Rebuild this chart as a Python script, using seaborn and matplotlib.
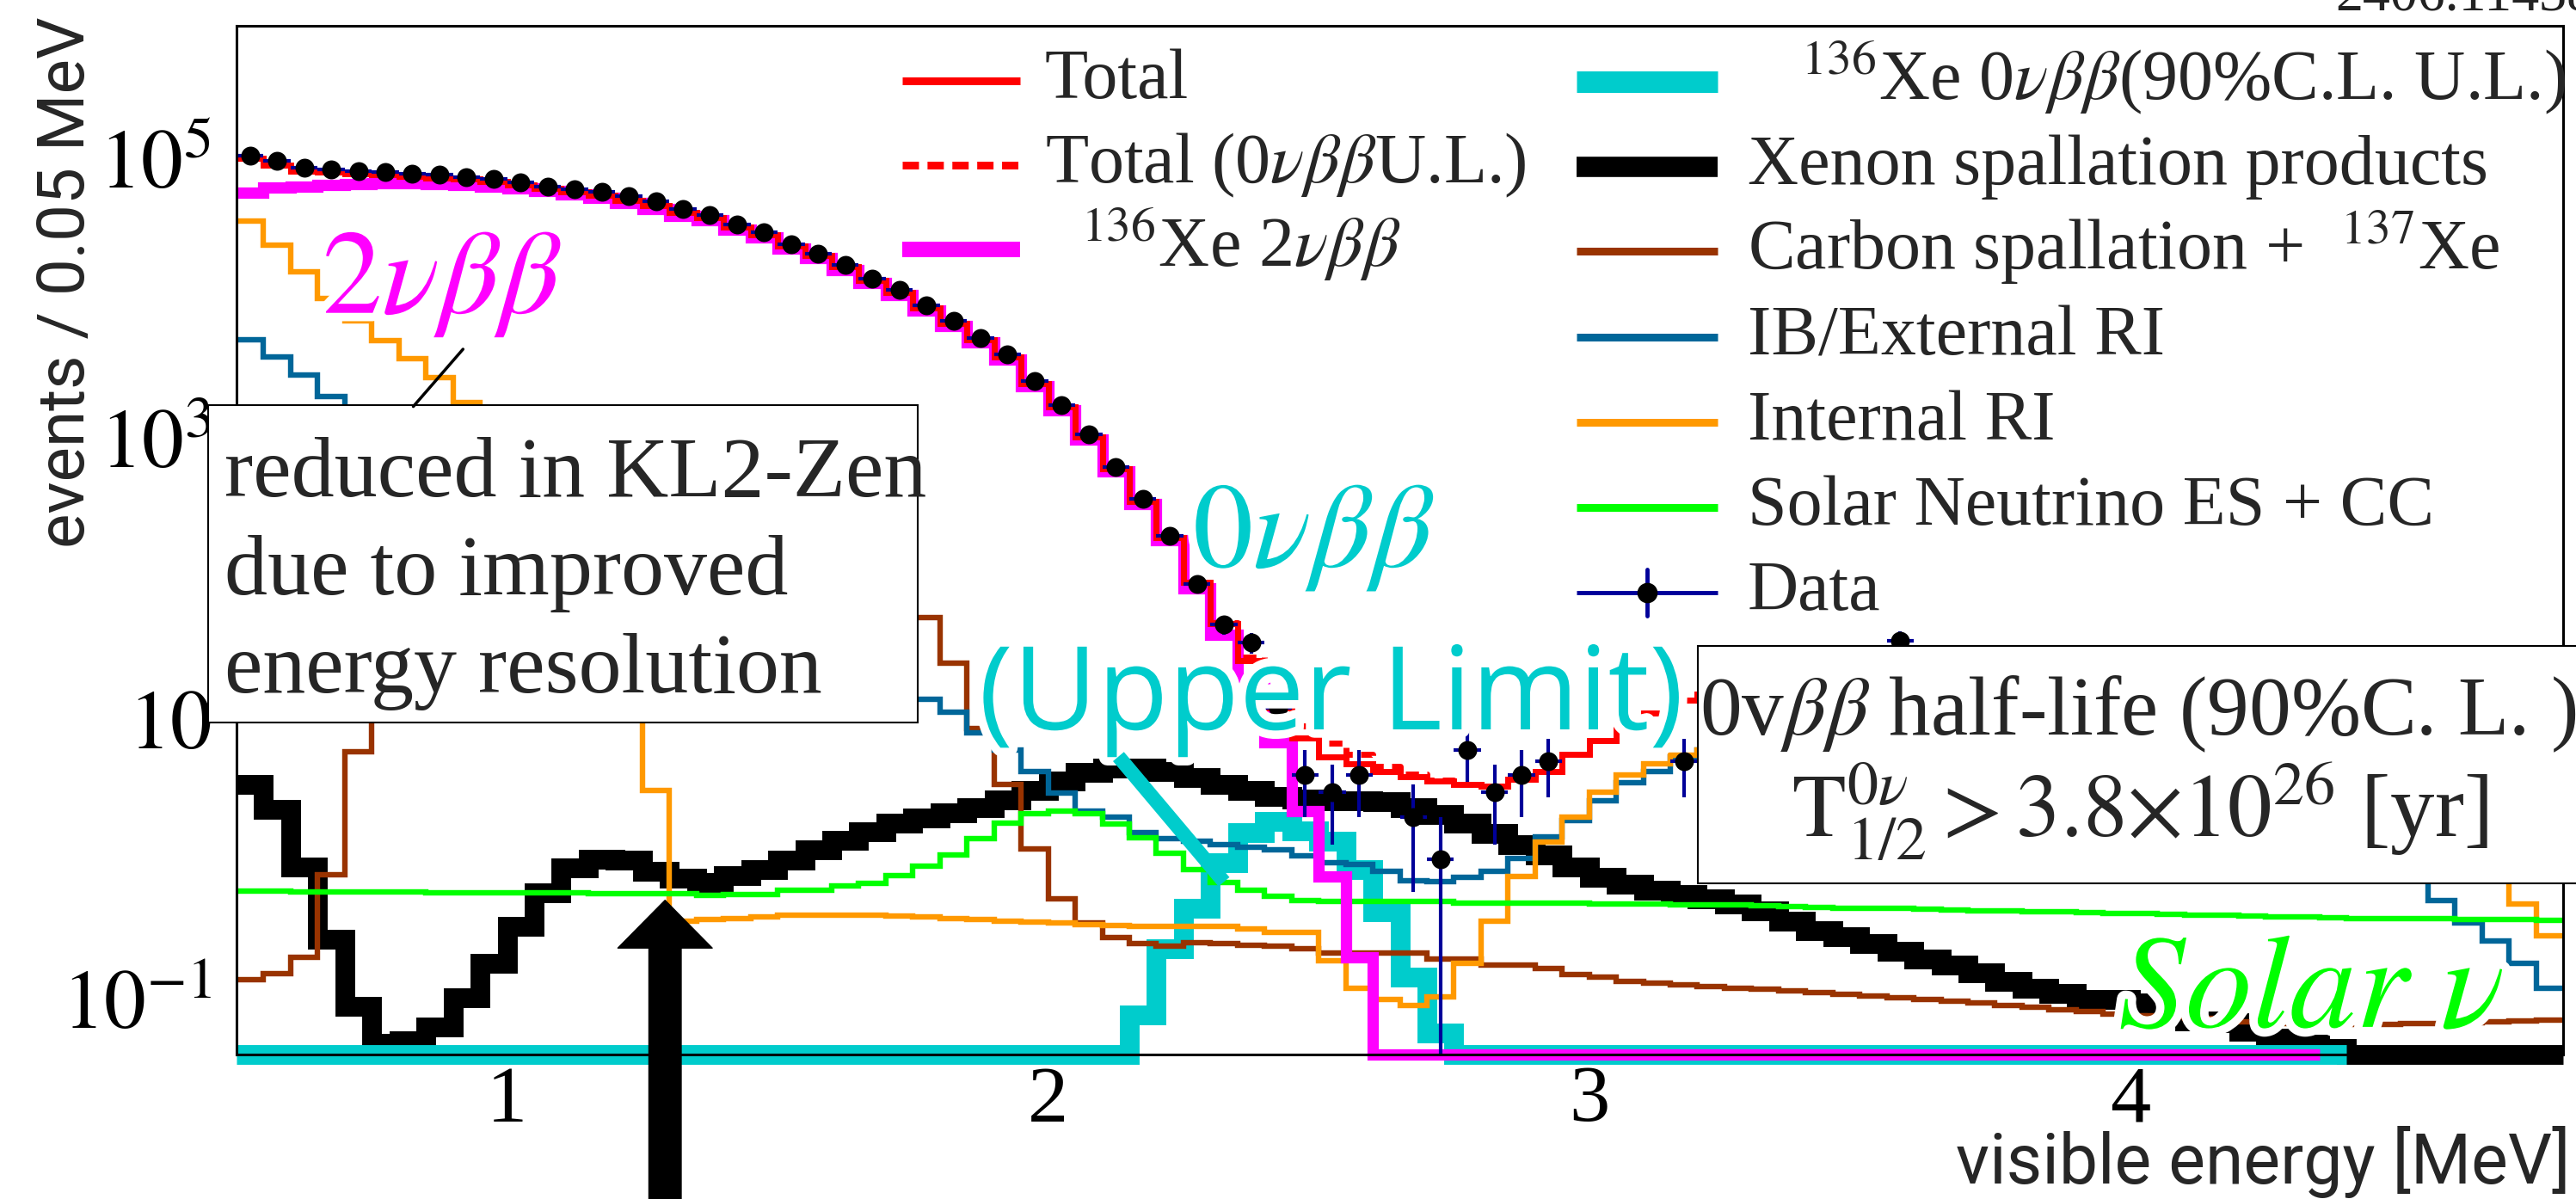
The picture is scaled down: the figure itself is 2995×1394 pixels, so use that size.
import numpy as np
import matplotlib
matplotlib.use("Agg")
import matplotlib.pyplot as plt
import matplotlib.patheffects as pe
from matplotlib.lines import Line2D
from matplotlib.patches import Rectangle
from matplotlib.ticker import LogLocator, FixedLocator, MultipleLocator, FuncFormatter, NullFormatter
import seaborn as sns

# ==============================
# Spectrum values (events / 0.05 MeV)
# 0 -> below the frame (drawn on the bottom edge, ROOT style), nan -> not drawn
# ==============================
E_LO, E_HI, E_BIN = 0.5, 4.8, 0.05
Y_LO, Y_HI = 0.0405, 8.8e5
X_TICKS = [1, 2, 3, 4]

total = [100000, 89100, 81300, 79400, 77600, 75900, 74100, 72400, 70800, 68400, 64600, 61000, 57500, 54300, 50100, 45700, 41200,
         37600, 32400, 28500, 23700, 20200, 16800, 13500, 11100, 8610, 6680, 5070, 3850, 2480, 1680, 1035, 610, 359, 197,
         95, 48, 26, 12, 7.3, 5.4, 4.8, 4.2, 3.9, 3.6, 3.4, 3.3, 3.7, 4.2, 5.6, 7.0, 9.0, 11, 13.6,
         15, 17, 19, 20, 21, 22, 22, 22, 21, 20, 19, 18, 17, 16, 15, 14, 13, 12, 11, 10, 9, 8, 7, 6, 5.2, 4.5, 3.8, 3.2, 2.6, 2.2, 1.8, 1.5]

xe136_2nu = [57100, 61700, 63100, 64600, 65300, 66100, 66100, 65300, 64600, 63100, 61000, 58200, 55000, 51900, 47900, 43700, 38900,
             35900, 30900, 27200, 22600, 19300, 16000, 12900, 10600, 8220, 6380, 4840, 3670, 2370, 1600, 989, 582, 343, 188,
             86, 40, 17, 6.8, 2.2, 0.75, 0.2] + [0.0] * 35 + [np.nan] * 9

xe136_0nu_ul = [0.0] * 33 + [0.078, 0.23, 0.45, 0.95, 1.55, 1.85, 1.6, 1.34, 0.84, 0.42, 0.145, 0.058] + [0.0] * 33 + [np.nan] * 8

xe_spallation = [3.4, 2.27, 0.88, 0.27, 0.089, 0.049, 0.051, 0.064, 0.103, 0.18, 0.33, 0.58, 0.87, 1.0, 0.98, 0.82, 0.73,
                 0.68, 0.76, 0.85, 0.99, 1.17, 1.36, 1.58, 1.80, 1.97, 2.14, 2.33, 2.64, 3.11, 3.64, 4.15, 4.45, 4.5, 4.2,
                 3.83, 3.43, 3.1, 2.8, 2.69, 2.6, 2.6, 2.57, 2.32, 2.09, 1.80, 1.52, 1.27, 1.07, 0.88, 0.74, 0.66,
                 0.60, 0.56, 0.52, 0.48, 0.43, 0.36, 0.31, 0.28, 0.25, 0.22, 0.195, 0.175, 0.155, 0.135, 0.12, 0.11, 0.10,
                 0.10, 0.095, 0.080, 0.070, 0.068, 0.059, 0.053, 0.048, 0.045] + [0.0] * 8

carbon_xe137 = [0.138, 0.153, 0.20, 0.776, 5.85,
                30, 70, 120, 170, 200, 220, 230, 230, 220, 210, 200, 185, 170, 155, 140, 125, 110, 95, 80, 66,
                53, 25, 8.5, 3.4, 1.19, 0.52, 0.35, 0.275, 0.25, 0.24,
                0.255, 0.25, 0.245, 0.24, 0.23, 0.214, 0.214, 0.214, 0.214, 0.195, 0.195, 0.176, 0.176, 0.166, 0.15, 0.145, 0.135,
                0.13, 0.127, 0.124, 0.121, 0.118, 0.115, 0.112, 0.109, 0.106, 0.103, 0.100, 0.097, 0.094, 0.091, 0.088, 0.085,
                0.082, 0.079, 0.077, 0.075, 0.073, 0.071, 0.069, 0.067, 0.065, 0.065, 0.066, 0.066, 0.067, 0.067, 0.068, 0.069,
                0.070, 0.071]

ib_external_ri = [5100, 3850, 2850, 2000,
                  1300, 800, 500, 330, 220, 150, 110, 80, 60, 48, 40, 34, 30, 27, 24, 22, 20, 19, 18, 16, 15,
                  13.8, 11.2, 8.0, 6.0, 4.2, 2.95, 2.2, 2.0, 1.55, 1.4,
                  1.35, 1.27, 1.22, 1.16, 1.06, 0.95, 0.92, 0.82, 0.70, 0.69, 0.74, 0.82, 1.02, 1.44, 1.89, 2.61, 3.5, 4.2, 5.4,
                  6.0, 6.5, 7.0, 7.0, 7.0, 6.8, 6.5, 6.0, 5.5, 5.0, 4.5, 4.0, 3.6, 3.2, 2.9, 2.6, 2.3, 2.0, 1.8, 1.6, 1.4,
                  1.25, 1.1, 1.0, 0.95, 0.9, 0.87,
                  0.51, 0.35, 0.26, 0.18, 0.12]

internal_ri = [35500, 24000, 15500, 10000, 6900, 5000, 3700, 2720, 1820,
               1000, 500, 250, 120, 60, 25, 3.1,
               0.36, 0.37, 0.38, 0.39, 0.40, 0.40, 0.40, 0.40, 0.395, 0.39, 0.38, 0.37, 0.36, 0.355, 0.35, 0.34, 0.335, 0.33, 0.33,
               0.33, 0.33, 0.32, 0.30, 0.30, 0.19, 0.12, 0.10, 0.091, 0.105, 0.18, 0.36, 0.75, 1.32, 2.0, 3.0, 4.0, 4.8, 5.5,
               6.0, 7.0, 8.0, 8.5, 9.0, 9.0, 9.0, 8.5, 8.0, 7.5, 7.0, 6.5, 6.0, 5.5, 5.0, 4.6, 4.2, 3.8, 3.4, 3.0,
               2.7, 2.4, 2.1, 1.9, 1.7, 1.5, 1.3, 1.1, 1.0, 0.9,
               0.48, 0.285]

solar_nu = [0.59, 0.59, 0.585, 0.585, 0.585, 0.585, 0.585, 0.575, 0.575, 0.575, 0.575, 0.575, 0.575, 0.565, 0.565, 0.565, 0.565,
            0.555, 0.56, 0.56, 0.598, 0.598, 0.645, 0.676, 0.765, 0.888, 1.08, 1.41, 1.82, 2.11, 2.22, 2.11, 1.78, 1.42, 1.11,
            0.85, 0.68, 0.60, 0.547, 0.51, 0.50, 0.50, 0.50, 0.50, 0.50, 0.49, 0.49, 0.49, 0.49, 0.49, 0.48, 0.48,
            0.48, 0.475, 0.47, 0.47, 0.465, 0.46, 0.455, 0.45, 0.45, 0.445, 0.44, 0.435, 0.43, 0.43, 0.425, 0.42,
            0.415, 0.41, 0.41, 0.405, 0.40, 0.40, 0.395, 0.39, 0.39, 0.385, 0.38, 0.38, 0.375, 0.375, 0.37, 0.37, 0.37, 0.365]

data = [105000, 95500, 85100, 83200, 81300, 79400, 77600, 75900, 73300, 70800, 67600, 63100, 60300, 57500, 53700, 49000, 43700,
        39400, 33700, 29600, 24500, 20900, 17400, 13900, 11500, 8900, 6900, 5250, 3980, 2570, 1740, 1070, 630, 370, 204,
        92, 47, 35, 12, 4, 3, 4, np.nan, 2, 1, 6, 3, 4, 5, np.nan, np.nan, np.nan, np.nan, 5,
        12, 15, 18, 16, 20, 22, 19, 36, 22, 20, 17, 19, 14, 16, 12, 15, 11, 9, 10, 8, 7, 9, 6, 6, 5, 5, 4, 4, 3, 4, 3, 3]

RED, MAGENTA, CYAN = "#ff0000", "#ff00ff", "#00cccc"
BROWN, BLUE, ORANGE, GREEN, NAVY = "#993300", "#006699", "#ff9900", "#00ff00", "#000099"

# ==============================
# Figure
# ==============================
W, H, DPI = 2995, 1394, 100
sns.set_theme(style="white")
plt.rcParams["font.family"] = ["Liberation Serif", "DejaVu Serif"]
plt.rcParams["mathtext.fontset"] = "stix"

fig = plt.figure(figsize=(W / DPI, H / DPI), dpi=DPI)
fig.patch.set_facecolor("white")
ax = fig.add_axes([275 / W, 1 - 1226 / H, (2980 - 275) / W, (1226 - 30) / H])
ax.set_facecolor("white")
ax.set_yscale("log")

edges = np.round(E_LO + E_BIN * np.arange(len(total) + 1), 3)
centers = edges[:-1] + E_BIN / 2


def px(x, y):
    return x / W, 1 - y / H


def draw_hist(vals, color, lw, z, **kw):
    v = np.asarray(vals, dtype=float)
    v = np.where(v < Y_LO, Y_LO, v)
    xs = np.repeat(edges, 2)[1:-1]
    ys = np.repeat(v, 2)
    sns.lineplot(x=xs, y=ys, ax=ax, color=color, linewidth=lw, estimator=None, sort=False,
                 legend=False, clip_on=False, zorder=z, solid_capstyle="butt",
                 solid_joinstyle="miter", **kw)


draw_hist(xe_spallation, "black", 16.5, 2.0)
draw_hist(xe136_0nu_ul, CYAN, 16.5, 2.05)
draw_hist(carbon_xe137, BROWN, 4.6, 2.1)
draw_hist(ib_external_ri, BLUE, 4.6, 2.15)
draw_hist(internal_ri, ORANGE, 4.6, 2.2)
draw_hist(solar_nu, GREEN, 4.6, 2.25)
draw_hist(xe136_2nu, MAGENTA, 9.5, 2.3)
tot_ul = np.asarray(total) + np.nan_to_num(np.asarray(xe136_0nu_ul))
draw_hist(tot_ul, RED, 5, 2.35, linestyle=(0, (2.2, 1.4)))
draw_hist(total, RED, 5, 2.4)

# data points with Poisson errors
cnt = np.asarray(data, dtype=float)
err_hi = np.sqrt(cnt)
err_lo = np.minimum(err_hi, cnt - Y_LO * 1.001)
ax.errorbar(centers, cnt, yerr=[err_lo, err_hi], xerr=E_BIN / 2, fmt="none",
            ecolor=NAVY, elinewidth=3, capsize=0, zorder=6)
sns.scatterplot(x=centers, y=cnt, ax=ax, color="black", s=250, linewidth=0, zorder=7, legend=False)

# axes, ROOT-like
ax.set_xlim(E_LO, E_HI)
ax.set_ylim(Y_LO, Y_HI)


def ylab(v, pos):
    e = int(round(np.log10(v)))
    if e == 1:
        return r"$10$"
    if e in (-1, 3, 5):
        return r"$10^{%d}$" % e
    return ""


ax.yaxis.set_major_locator(LogLocator(base=10, numticks=20))
ax.yaxis.set_minor_locator(LogLocator(base=10, subs=np.arange(2, 10), numticks=20))
ax.yaxis.set_major_formatter(FuncFormatter(ylab))
ax.yaxis.set_minor_formatter(NullFormatter())
ax.xaxis.set_major_locator(FixedLocator(X_TICKS))
ax.xaxis.set_minor_locator(MultipleLocator(0.2))
ax.tick_params(axis="both", which="both", direction="in", top=False, right=False, colors="black")
ax.tick_params(axis="y", which="major", length=47, width=2.2, pad=21, labelsize=70)
ax.tick_params(axis="y", which="minor", length=27, width=2.2)
ax.tick_params(axis="x", which="major", length=27, width=2.2, pad=9, labelsize=68)
ax.tick_params(axis="x", which="minor", length=13, width=2.2)
ax.xaxis.set_zorder(9)
ax.yaxis.set_zorder(9)
for s in ax.spines.values():
    s.set_color("black")
    s.set_linewidth(2.2)
    s.set_zorder(10)

fig.text(*px(78, 328), "events / 0.05 MeV", rotation=90, family="Roboto", fontsize=55,
         ha="center", va="center")
fig.text(*px(2989, 1376), "visible energy [MeV]", family="Roboto", fontsize=58,
         ha="right", va="baseline")
fig.text(*px(2715, 12), "2406.11438", fontsize=46, color="#222222", ha="left", va="baseline")

# ==============================
# Legend (two columns, no frame)
# ==============================
LEG_FS = 59


def leg_row(x0, x1, xt, y, label, **kw):
    fig.add_artist(Line2D([x0 / W, x1 / W], [1 - y / H] * 2, transform=fig.transFigure,
                          solid_capstyle="butt", **kw))
    fig.text(*px(xt, y + 20), label, fontsize=LEG_FS, ha="left", va="baseline", zorder=25)


leg_row(1049, 1186, 1215, 94, "Total", color=RED, lw=6.5)
leg_row(1049, 1186, 1215, 192, r"Total (0$\nu\beta\beta$U.L.)", color=RED, lw=6.5,
        linestyle=(0, (2.1, 1.1)))
leg_row(1049, 1186, 1215, 290, r"  $^{136}$Xe 2$\nu\beta\beta$", color=MAGENTA, lw=13)
leg_row(1833, 1997, 2032, 95, r"   $^{136}$Xe 0$\nu\beta\beta$(90%C.L. U.L.)", color=CYAN, lw=18)
leg_row(1833, 1997, 2032, 194, "Xenon spallation products", color="black", lw=17)
leg_row(1833, 1997, 2032, 292, r"Carbon spallation +  $^{137}$Xe", color=BROWN, lw=6.5)
leg_row(1833, 1997, 2032, 392, "IB/External RI", color=BLUE, lw=6.5)
leg_row(1833, 1997, 2032, 491, "Internal RI", color=ORANGE, lw=6.5)
leg_row(1833, 1997, 2032, 590, "Solar Neutrino ES + CC", color=GREEN, lw=6.5)
leg_row(1833, 1997, 2032, 689, "Data", color=NAVY, lw=3.5)
fig.add_artist(Line2D([1915 / W] * 2, [1 - 662 / H, 1 - 716 / H], transform=fig.transFigure, color=NAVY, lw=3.5))
fig.add_artist(Line2D([1915 / W], [1 - 689 / H], transform=fig.transFigure, marker="o", ms=16,
                      color="black", lw=0))

# ==============================
# Annotations
# ==============================
halo = [pe.withStroke(linewidth=14, foreground="white")]

fig.text(*px(375, 364), r"$2\nu\beta\beta$", color=MAGENTA, fontsize=100, path_effects=halo, zorder=22)
fig.text(*px(1387, 659), r"$0\nu\beta\beta$", color=CYAN, fontsize=101, path_effects=halo, zorder=22)
fig.text(*px(1138, 848), "(Upper Limit)", family="Open Sans", color=CYAN, fontsize=97,
         path_effects=halo, zorder=22)
fig.text(*px(2463, 1195), r"$Solar\ \nu$", color=GREEN, fontsize=112, path_effects=halo, zorder=22)

fig.add_artist(Line2D([2.13, 2.325], [5.4, 0.69], transform=ax.transData, color=CYAN, lw=12,
                      solid_capstyle="butt", zorder=23))

# box: energy resolution note
fig.add_artist(Rectangle(px(242, 840), (1067 - 242) / W, (840 - 471) / H, transform=fig.transFigure,
                         facecolor="white", edgecolor="black", lw=1.5, zorder=20))
for txt, yb in [("reduced in KL2-Zen", 577), ("due to improved", 691), ("energy resolution", 805)]:
    fig.text(*px(261, yb), txt, fontsize=72, ha="left", va="baseline", zorder=21)
fig.add_artist(Line2D([0.8267, 0.9186], [1695, 4345], transform=ax.transData, color="black", lw=2.5,
                      zorder=21))

# big arrow from below the frame
ax.annotate("", xy=(1.292, 0.51), xytext=(1.292, -0.25), textcoords=("data", "axes fraction"),
            annotation_clip=False, zorder=9,
            arrowprops=dict(arrowstyle="simple,head_length=40,head_width=79,tail_width=27",
                            mutation_scale=1, color="black", shrinkA=0, shrinkB=0))

# box: half-life limit
fig.add_artist(Rectangle(px(1974, 1027), (3010 - 1974) / W, (1027 - 751) / H, transform=fig.transFigure,
                         facecolor="white", edgecolor="black", lw=1.5, zorder=20))
fig.text(*px(2486, 854), r"0v$\beta\beta$ half-life (90%C. L. )", fontsize=70, ha="center",
         va="baseline", zorder=21)
fig.text(*px(2488, 973), r"$\mathrm{T}^{0\nu}_{1/2} > 3.8{\times}10^{26}$ [yr]", fontsize=74,
         ha="center", va="baseline", zorder=21)

fig.savefig("out.png", dpi=DPI)
